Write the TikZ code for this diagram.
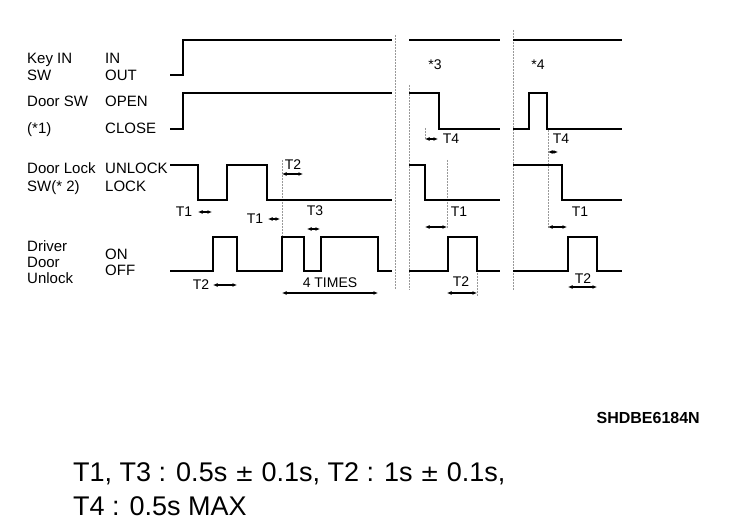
\documentclass[tikz,border=0pt]{standalone}
\usepackage{fontspec}
\setmainfont{Liberation Sans}
\newfontfamily\pmfont{DejaVu Sans}
\usetikzlibrary{arrows.meta}
\begin{document}
\begin{tikzpicture}[x=1pt,y=-1pt,
  sig/.style={line width=1.9pt, line join=miter},
  lbl/.style={font=\fontsize{15}{15}\selectfont, anchor=base west, inner sep=0pt},
  tl/.style={font=\fontsize{14}{14}\selectfont, anchor=base, inner sep=0pt},
  dim/.style={line width=1.2pt, {Latex[length=4.5pt,width=4pt]}-{Latex[length=4.5pt,width=4pt]}},
  brk/.style={densely dotted, line width=0.5pt, black!40}]
\useasboundingbox (0,0) rectangle (736,526);
% left labels
\node[lbl] (k1) at (27,63.5) {Key IN};
\node[lbl] (k2) at (27,80.5) {SW};
\node[lbl] (k3) at (105,63.5) {IN};
\node[lbl] (k4) at (105,80.5) {OUT};
\node[lbl] (d1) at (27,106.5) {Door SW};
\node[lbl] (d2) at (27,133.5) {(*1)};
\node[lbl] (d3) at (105,106.5) {OPEN};
\node[lbl] (d4) at (105,133.5) {CLOSE};
\node[lbl] (l1) at (27,173.5) {Door Lock};
\node[lbl] (l2) at (27,191.5) {SW(* 2)};
\node[lbl] (l3) at (105,173.5) {UNLOCK};
\node[lbl] (l4) at (105,191.5) {LOCK};
\node[lbl] (u1) at (27,251.5) {Driver};
\node[lbl] (u2) at (27,267.5) {Door};
\node[lbl] (u3) at (27,283.5) {Unlock};
\node[lbl] (u4) at (105,259.5) {ON};
\node[lbl] (u5) at (105,275.5) {OFF};
% break / reference dotted lines
\draw[brk] (395,35) -- (395,290);
\draw[brk] (409,85) -- (409,290);
\draw[brk] (513,30) -- (513,290);
\draw[brk] (282,160) -- (282,245);
\draw[brk] (425,128) -- (425,140);
\draw[brk] (447,160) -- (447,228);
\draw[brk] (477,270) -- (477,296);
\draw[brk] (548,130) -- (548,228);
% Key IN SW
\draw[sig] (170,75) -- (183,75) -- (183,40) -- (392,40);
\draw[sig] (409,40) -- (500,40);
\draw[sig] (513,40) -- (622,40);
% Door SW
\draw[sig] (170,129) -- (183,129) -- (183,93) -- (392,93);
\draw[sig] (409,93) -- (439,93) -- (439,129) -- (500,129);
\draw[sig] (513,129) -- (529,129) -- (529,93) -- (547,93) -- (547,129) -- (622,129);
% Door Lock SW
\draw[sig] (170,165) -- (198,165) -- (198,200) -- (227,200) -- (227,165) -- (267,165) -- (267,200) -- (392,200);
\draw[sig] (409,165) -- (425,165) -- (425,200) -- (500,200);
\draw[sig] (513,165) -- (562,165) -- (562,200) -- (622,200);
% Driver Door Unlock
\draw[sig] (170,271) -- (213,271) -- (213,237) -- (237,237) -- (237,271) -- (282,271) -- (282,237) -- (304,237) -- (304,271) -- (321,271) -- (321,237) -- (378,237) -- (378,271) -- (392,271);
\draw[sig] (409,271) -- (448,271) -- (448,237) -- (477,237) -- (477,271) -- (500,271);
\draw[sig] (513,271) -- (568,271) -- (568,237) -- (597,237) -- (597,271) -- (622,271);
% timing labels
\node[tl] (t2a) at (293,170) {T2};
\draw[dim] (282,174) -- (303,174);
\node[tl] (t1a) at (184,217) {T1};
\draw[dim] (198,212) -- (212,212);
\node[tl] (t1b) at (255,224) {T1};
\draw[dim] (268,219) -- (280,219);
\node[tl] (t3) at (315,216) {T3};
\draw[dim] (307,229) -- (320,229);
\node[tl] (t2b) at (201,290) {T2};
\draw[dim] (213,285) -- (237,285);
\node[tl] (x4) at (330,288) {4 TIMES};
\draw[dim] (282,293) -- (378,293);
\node[tl] (s3) at (435,70) {*3};
\node[tl] (t4a) at (451,144) {T4};
\draw[dim] (425,139) -- (438,139);
\node[tl] (t1c) at (459,217) {T1};
\draw[dim] (425,227) -- (447,227);
\node[tl] (t2c) at (461,287) {T2};
\draw[dim] (447,293) -- (477,293);
\node[tl] (s4) at (538,70) {*4};
\node[tl] (t4b) at (561,144) {T4};
\draw[dim] (548,152) -- (558,152);
\node[tl] (t1d) at (580,217) {T1};
\draw[dim] (548,227) -- (567,227);
\node[tl] (t2d) at (583,284) {T2};
\draw[dim] (568,287) -- (597,287);
% code and notes
\node[font=\fontsize{16}{16}\selectfont\bfseries, anchor=base east, inner sep=0pt] (code) at (700,423) {SHDBE6184N};
\node[font=\fontsize{27}{27}\selectfont, anchor=base west, inner sep=0pt] (n1) at (73,481) {T1, T3 : 0.5s {\pmfont\fontsize{23}{23}\selectfont ±} 0.1s, T2 : 1s {\pmfont\fontsize{23}{23}\selectfont ±} 0.1s,};
\node[font=\fontsize{27}{27}\selectfont, anchor=base west, inner sep=0pt] (n2) at (73,515) {T4 : 0.5s MAX};
\end{tikzpicture}
\end{document}
